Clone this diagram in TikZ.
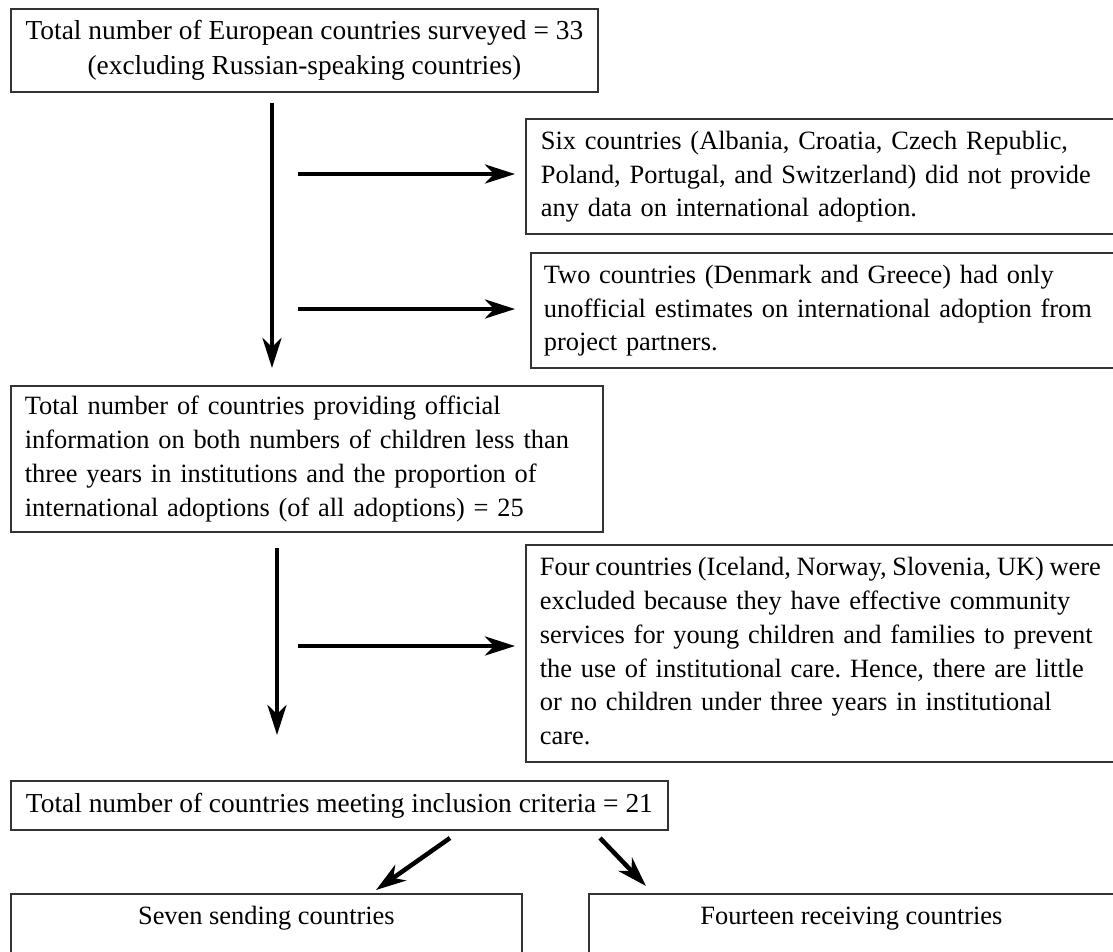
\documentclass[tikz,border=0pt]{standalone}
\usepackage{fontspec}
\setmainfont{Liberation Serif}
\usetikzlibrary{arrows.meta,calc}
\definecolor{boxgray}{HTML}{333333}
\frenchspacing
\newcommand\boxlines[1]{\begin{tabular}{@{}l@{}}#1\end{tabular}}
\newcommand\fitline[2]{\hbox to #1{\spaceskip=0.25em plus 0.5em minus 0.2em\relax #2}}
\begin{document}
\begin{tikzpicture}[x=1pt,y=-1pt,
  box/.style={draw=boxgray,line width=1.8pt,inner xsep=14pt,inner ysep=0pt,
    font=\fontsize{26.4}{33.8}\selectfont,align=left,anchor=north west},
  bigtext/.style={font=\fontsize{27.4}{35}\selectfont},
  arr/.style={line width=4.5pt,-{Stealth[length=30pt,width=19pt,inset=9pt]}}]
\useasboundingbox (0,0) rectangle (1113,951);
\clip (0,0) rectangle (1113,951);
\node[box,bigtext,align=center,minimum width=587pt,minimum height=83pt] (A) at (10,8)
  {Total number of European countries surveyed = 33\\(excluding Russian-speaking countries)};
\node[box,inner xsep=15pt,text width=590pt,minimum height=115pt] (B) at (525,118)
  {\boxlines{Six countries (Albania, Croatia, Czech Republic,\\Poland, Portugal, and Switzerland) did not provide\\any data on international adoption.}};
\node[box,inner xsep=13pt,text width=590pt,minimum height=115pt] (C) at (530,252)
  {\boxlines{Two countries (Denmark and Greece) had only\\unofficial estimates on international adoption from\\project partners.}};
\node[box,text width=564pt,minimum height=146pt] (D) at (10,385)
  {\boxlines{Total number of countries providing official\\information on both numbers of children less than\\three years in institutions and the proportion of\\international adoptions (of all adoptions) = 25}};
\node[box,inner xsep=14pt,text width=590pt,minimum height=217pt] (E) at (525,544)
  {\boxlines{\fitline{561pt}{Four countries (Iceland, Norway, Slovenia, UK) were}\\excluded because they have effective community\\services for young children and families to prevent\\the use of institutional care. Hence, there are little\\or no children under three years in institutional\\care.}};
\node[box,bigtext,align=center,minimum width=657pt,minimum height=49pt] (F) at (10,780)
  {Total number of countries meeting inclusion criteria = 21};
\node[box,align=center,minimum width=511pt,text height=31pt,text depth=100pt] (G) at (10,893)
  {Seven sending countries};
\node[box,align=center,minimum width=525pt,text height=31pt,text depth=100pt] (H) at (588,893)
  {Fourteen receiving countries};
% vertical arrows
\draw[arr] ([shift={(262,10)}]A.south west) -- ([shift={(262,-17)}]D.north west);
\draw[arr] ([shift={(267,15)}]D.south west) -- ([shift={(267,-45)}]F.north west);
% side arrows
\coordinate (h1) at (298,174);
\coordinate (h2) at (298,309);
\coordinate (h3) at (298,646);
\draw[arr,shorten >=10pt] (h1) -- (h1 -| B.west);
\draw[arr,shorten >=15pt] (h2) -- (h2 -| C.west);
\draw[arr,shorten >=10pt] (h3) -- (h3 -| E.west);
% diagonal arrows
\draw[arr] ([shift={(440,58)}]F.north west) -- ([shift={(366,-3)}]G.north west);
\draw[arr] ([shift={(590,58)}]F.north west) -- ([shift={(58,-7)}]H.north west);
\end{tikzpicture}
\end{document}
